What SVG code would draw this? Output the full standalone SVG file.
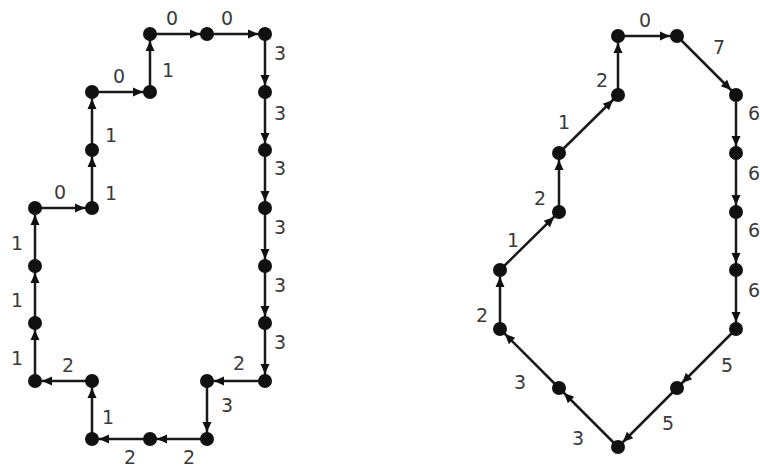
<svg xmlns="http://www.w3.org/2000/svg" width="760" height="471" viewBox="0 0 760 471">
<style>
.e{stroke:#1a1a1a;stroke-width:2.5;fill:none;marker-end:url(#ah)}
.n{fill:#111}
.t{font-family:"DejaVu Sans",Verdana,sans-serif;font-size:19px;fill:#3a3a3a;text-anchor:middle}
</style>
<defs>
<marker id="ah" markerUnits="userSpaceOnUse" markerWidth="20" markerHeight="12" refX="17" refY="5" orient="auto" overflow="visible">
<path d="M0,0.5 L10,5 L0,9.5 z" fill="#111"/>
</marker>
</defs>
<rect width="760" height="471" fill="#fff"/>
<g id="connectors">
<path class="e" d="M35,381 L35,323"/>
<path class="e" d="M35,323 L35,266"/>
<path class="e" d="M35,266 L35,208"/>
<path class="e" d="M35,208 L92,208"/>
<path class="e" d="M92,208 L92,150"/>
<path class="e" d="M92,150 L92,92"/>
<path class="e" d="M92,92 L150,92"/>
<path class="e" d="M150,92 L150,34"/>
<path class="e" d="M150,34 L207,34"/>
<path class="e" d="M207,34 L265,34"/>
<path class="e" d="M265,34 L265,92"/>
<path class="e" d="M265,92 L265,150"/>
<path class="e" d="M265,150 L265,208"/>
<path class="e" d="M265,208 L265,266"/>
<path class="e" d="M265,266 L265,323"/>
<path class="e" d="M265,323 L265,381"/>
<path class="e" d="M265,381 L207,381"/>
<path class="e" d="M207,381 L207,439"/>
<path class="e" d="M207,439 L150,439"/>
<path class="e" d="M150,439 L92,439"/>
<path class="e" d="M92,439 L92,381"/>
<path class="e" d="M92,381 L35,381"/>
<path class="e" d="M500,329 L500,270"/>
<path class="e" d="M500,270 L559,212"/>
<path class="e" d="M559,212 L559,153"/>
<path class="e" d="M559,153 L618,95"/>
<path class="e" d="M618,95 L618,36"/>
<path class="e" d="M618,36 L677,36"/>
<path class="e" d="M677,36 L736,95"/>
<path class="e" d="M736,95 L736,153"/>
<path class="e" d="M736,153 L736,212"/>
<path class="e" d="M736,212 L736,270"/>
<path class="e" d="M736,270 L736,329"/>
<path class="e" d="M736,329 L677,388"/>
<path class="e" d="M677,388 L618,447"/>
<path class="e" d="M618,447 L559,388"/>
<path class="e" d="M559,388 L500,329"/>
</g>
<g id="left-nodes">
<circle id="L1" class="n" cx="35" cy="381" r="7"/>
<circle id="L2" class="n" cx="35" cy="323" r="7"/>
<circle id="L3" class="n" cx="35" cy="266" r="7"/>
<circle id="L4" class="n" cx="35" cy="208" r="7"/>
<circle id="L5" class="n" cx="92" cy="208" r="7"/>
<circle id="L6" class="n" cx="92" cy="150" r="7"/>
<circle id="L7" class="n" cx="92" cy="92" r="7"/>
<circle id="L8" class="n" cx="150" cy="92" r="7"/>
<circle id="L9" class="n" cx="150" cy="34" r="7"/>
<circle id="L10" class="n" cx="207" cy="34" r="7"/>
<circle id="L11" class="n" cx="265" cy="34" r="7"/>
<circle id="L12" class="n" cx="265" cy="92" r="7"/>
<circle id="L13" class="n" cx="265" cy="150" r="7"/>
<circle id="L14" class="n" cx="265" cy="208" r="7"/>
<circle id="L15" class="n" cx="265" cy="266" r="7"/>
<circle id="L16" class="n" cx="265" cy="323" r="7"/>
<circle id="L17" class="n" cx="265" cy="381" r="7"/>
<circle id="L18" class="n" cx="207" cy="381" r="7"/>
<circle id="L19" class="n" cx="207" cy="439" r="7"/>
<circle id="L20" class="n" cx="150" cy="439" r="7"/>
<circle id="L21" class="n" cx="92" cy="439" r="7"/>
<circle id="L22" class="n" cx="92" cy="381" r="7"/>
</g>
<g id="right-nodes">
<circle id="R1" class="n" cx="500" cy="329" r="7"/>
<circle id="R2" class="n" cx="500" cy="270" r="7"/>
<circle id="R3" class="n" cx="559" cy="212" r="7"/>
<circle id="R4" class="n" cx="559" cy="153" r="7"/>
<circle id="R5" class="n" cx="618" cy="95" r="7"/>
<circle id="R6" class="n" cx="618" cy="36" r="7"/>
<circle id="R7" class="n" cx="677" cy="36" r="7"/>
<circle id="R8" class="n" cx="736" cy="95" r="7"/>
<circle id="R9" class="n" cx="736" cy="153" r="7"/>
<circle id="R10" class="n" cx="736" cy="212" r="7"/>
<circle id="R11" class="n" cx="736" cy="270" r="7"/>
<circle id="R12" class="n" cx="736" cy="329" r="7"/>
<circle id="R13" class="n" cx="677" cy="388" r="7"/>
<circle id="R14" class="n" cx="618" cy="447" r="7"/>
<circle id="R15" class="n" cx="559" cy="388" r="7"/>
</g>
<g id="labels">
<text class="t" x="17" y="365">1</text>
<text class="t" x="17" y="307">1</text>
<text class="t" x="17" y="250">1</text>
<text class="t" x="60" y="199">0</text>
<text class="t" x="111" y="200">1</text>
<text class="t" x="111" y="142">1</text>
<text class="t" x="119" y="83">0</text>
<text class="t" x="168" y="77">1</text>
<text class="t" x="172" y="25">0</text>
<text class="t" x="227" y="25">0</text>
<text class="t" x="280" y="60">3</text>
<text class="t" x="280" y="120">3</text>
<text class="t" x="280" y="175">3</text>
<text class="t" x="280" y="234">3</text>
<text class="t" x="280" y="292">3</text>
<text class="t" x="280" y="349">3</text>
<text class="t" x="239" y="370">2</text>
<text class="t" x="227" y="412">3</text>
<text class="t" x="189" y="464">2</text>
<text class="t" x="130" y="464">2</text>
<text class="t" x="108" y="424">1</text>
<text class="t" x="68" y="372">2</text>
<text class="t" x="482" y="322">2</text>
<text class="t" x="513" y="247">1</text>
<text class="t" x="540" y="205">2</text>
<text class="t" x="564" y="129">1</text>
<text class="t" x="602" y="87">2</text>
<text class="t" x="645" y="27">0</text>
<text class="t" x="719" y="54">7</text>
<text class="t" x="754" y="120">6</text>
<text class="t" x="754" y="180">6</text>
<text class="t" x="754" y="237">6</text>
<text class="t" x="754" y="297">6</text>
<text class="t" x="727" y="372">5</text>
<text class="t" x="668" y="430">5</text>
<text class="t" x="578" y="445">3</text>
<text class="t" x="520" y="389">3</text>
</g>
</svg>
